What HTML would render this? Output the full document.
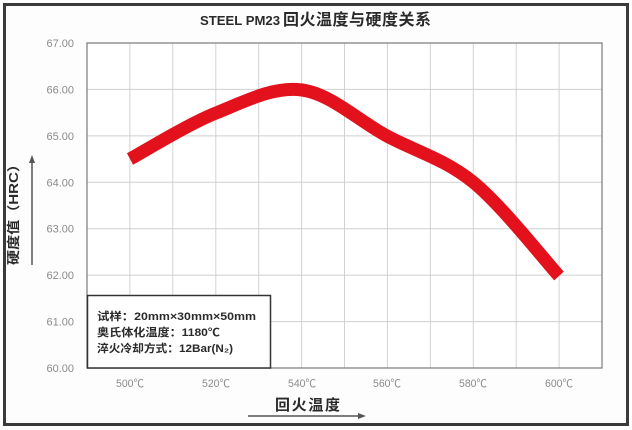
<!DOCTYPE html>
<html>
<head>
<meta charset="utf-8">
<style>
  html, body { margin: 0; padding: 0; background: #ffffff; }
  body { width: 632px; height: 430px; overflow: hidden; }
  svg { display: block; }
</style>
</head>
<body>
<svg width="632" height="430" viewBox="0 0 632 430" xmlns="http://www.w3.org/2000/svg">
  <rect x="0" y="0" width="632" height="430" fill="#ffffff"/>
  <!-- outer frame -->
  <rect x="4.5" y="4.5" width="623" height="420" fill="#fdfdfd" stroke="#3a3a3a" stroke-width="3"/>

  <!-- title -->
  <text x="200" y="25" font-family="Liberation Sans, sans-serif" font-weight="bold" font-size="13" fill="#2a2a2a" textLength="80" lengthAdjust="spacingAndGlyphs">STEEL PM23</text>
  <text x="283" y="25" font-family="Liberation Sans, 'Noto Sans CJK SC', sans-serif" font-weight="bold" font-size="16" fill="#2a2a2a" textLength="148" lengthAdjust="spacing">回火温度与硬度关系</text>

  <!-- plot background -->
  <rect x="87" y="43" width="515" height="325" fill="#ffffff"/>

  <!-- vertical grid -->
  <g stroke="#d2d2d2" stroke-width="1">
    <line x1="129.9" y1="43" x2="129.9" y2="368"/>
    <line x1="172.8" y1="43" x2="172.8" y2="368"/>
    <line x1="215.8" y1="43" x2="215.8" y2="368"/>
    <line x1="258.7" y1="43" x2="258.7" y2="368"/>
    <line x1="301.6" y1="43" x2="301.6" y2="368"/>
    <line x1="344.5" y1="43" x2="344.5" y2="368"/>
    <line x1="387.4" y1="43" x2="387.4" y2="368"/>
    <line x1="430.3" y1="43" x2="430.3" y2="368"/>
    <line x1="473.3" y1="43" x2="473.3" y2="368"/>
    <line x1="516.2" y1="43" x2="516.2" y2="368"/>
    <line x1="559.1" y1="43" x2="559.1" y2="368"/>
  </g>
  <!-- horizontal grid -->
  <g stroke="#cfcfcf" stroke-width="1">
    <line x1="87" y1="89.4" x2="602" y2="89.4"/>
    <line x1="87" y1="135.9" x2="602" y2="135.9"/>
    <line x1="87" y1="182.3" x2="602" y2="182.3"/>
    <line x1="87" y1="228.7" x2="602" y2="228.7"/>
    <line x1="87" y1="275.1" x2="602" y2="275.1"/>
    <line x1="87" y1="321.6" x2="602" y2="321.6"/>
  </g>
  <!-- plot border -->
  <rect x="87" y="43" width="515" height="325" fill="none" stroke="#7a7a7a" stroke-width="1.2"/>

  <!-- y tick labels -->
  <g font-family="Liberation Sans, sans-serif" font-size="11" fill="#8a8a8a" text-anchor="end">
    <text x="74" y="47">67.00</text>
    <text x="74" y="93.4">66.00</text>
    <text x="74" y="139.9">65.00</text>
    <text x="74" y="186.3">64.00</text>
    <text x="74" y="232.7">63.00</text>
    <text x="74" y="279.1">62.00</text>
    <text x="74" y="325.6">61.00</text>
    <text x="74" y="372">60.00</text>
  </g>

  <!-- x tick labels -->
  <g font-family="Liberation Sans, 'Noto Sans CJK SC', sans-serif" font-size="11" fill="#8a8a8a">
    <text x="116" y="387" textLength="28" lengthAdjust="spacingAndGlyphs">500℃</text>
    <text x="202" y="387" textLength="28" lengthAdjust="spacingAndGlyphs">520℃</text>
    <text x="288" y="387" textLength="28" lengthAdjust="spacingAndGlyphs">540℃</text>
    <text x="373" y="387" textLength="28" lengthAdjust="spacingAndGlyphs">560℃</text>
    <text x="459" y="387" textLength="28" lengthAdjust="spacingAndGlyphs">580℃</text>
    <text x="545" y="387" textLength="28" lengthAdjust="spacingAndGlyphs">600℃</text>
  </g>

  <!-- data series -->
  <path d="M130,159 C144.3,151.3 187.3,124.5 216,113 C244.7,101.5 273.5,86.2 302,90 C330.5,93.8 358.5,120.7 387,136 C415.5,151.3 444.3,158.8 473,182 C501.7,205.2 544.7,260.3 559,276"
        fill="none" stroke="#e3111c" stroke-width="13" stroke-linecap="butt" stroke-linejoin="round"/>

  <!-- info box -->
  <rect x="87.5" y="295.5" width="183" height="72.5" fill="#ffffff" stroke="#333333" stroke-width="1.5"/>
  <g font-family="Liberation Sans, 'Noto Sans CJK SC', sans-serif" font-size="11" font-weight="bold" fill="#2a2a2a">
    <text x="97" y="320" textLength="159" lengthAdjust="spacingAndGlyphs">试样：20mm×30mm×50mm</text>
    <text x="97" y="336" textLength="123" lengthAdjust="spacingAndGlyphs">奥氏体化温度：1180℃</text>
    <text x="97" y="352" textLength="136" lengthAdjust="spacingAndGlyphs">淬火冷却方式：12Bar(N₂)</text>
  </g>

  <!-- x axis title -->
  <text x="275" y="410" font-family="Liberation Sans, 'Noto Sans CJK SC', sans-serif" font-size="15" font-weight="bold" fill="#2a2a2a" textLength="65" lengthAdjust="spacing">回火温度</text>
  <line x1="248" y1="416" x2="360" y2="416" stroke="#555555" stroke-width="1.5"/>
  <polygon points="366,416 358,413 358,419" fill="#555555"/>

  <!-- y axis title -->
  <text transform="translate(18,265) rotate(-90)" x="0" y="0" font-family="Liberation Sans, 'Noto Sans CJK SC', sans-serif" font-size="13" font-weight="bold" fill="#2a2a2a" textLength="108" lengthAdjust="spacingAndGlyphs">硬度值（HRC）</text>
  <line x1="32" y1="265" x2="32" y2="162" stroke="#555555" stroke-width="1.5"/>
  <polygon points="32,155 29,163 35,163" fill="#555555"/>
</svg>
</body>
</html>
